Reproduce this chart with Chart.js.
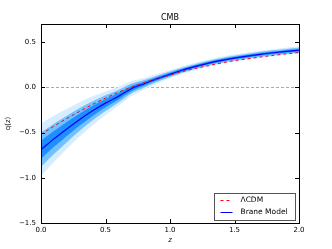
<!DOCTYPE html>
<html><head><meta charset="utf-8">
<script src="https://cdn.jsdelivr.net/npm/chart.js@4.4.0/dist/chart.umd.min.js"></script>
<style>html,body{margin:0;padding:0;background:#fff;}canvas{display:block;}</style>
</head><body>
<canvas id="c" width="332" height="249"></canvas>
<script>
const zValues = [0.0,0.1,0.2,0.3,0.4,0.5,0.6,0.7,0.8,0.9,1.0,1.1,1.2,1.3,1.4,1.5,1.6,1.7,1.8,1.9,2.0];
const lcdm  = [-0.52,-0.43,-0.345,-0.265,-0.19,-0.12,-0.055,0.0,0.05,0.095,0.135,0.175,0.21,0.24,0.27,0.295,0.315,0.335,0.353,0.37,0.385];
const brane = [-0.69,-0.57,-0.46,-0.355,-0.26,-0.175,-0.10,-0.015,0.04,0.095,0.145,0.192,0.232,0.268,0.298,0.323,0.345,0.365,0.382,0.397,0.41];
const sigma3 = [0.29,0.255,0.22,0.19,0.16,0.13,0.104,0.082,0.064,0.052,0.046,0.042,0.04,0.04,0.04,0.04,0.04,0.04,0.04,0.04,0.04];
const sigma2 = [0.19,0.168,0.146,0.125,0.105,0.086,0.069,0.054,0.042,0.034,0.030,0.028,0.027,0.027,0.027,0.027,0.027,0.027,0.027,0.027,0.027];
const sigma1 = [0.10,0.088,0.077,0.066,0.056,0.046,0.037,0.029,0.022,0.018,0.016,0.015,0.014,0.014,0.014,0.014,0.014,0.014,0.014,0.014,0.014];
const xTicks = [0.0,0.5,1.0,1.5,2.0];
const yTicks = [-1.5,-1.0,-0.5,0.0,0.5];
const titleText = "CMB";
const xLabel = "z";
const yLabel = "q(z)";
const legendLabels = ["\u039BCDM","Brane Model"];

const pts = arr => arr.map((v,i)=>({x:zValues[i], y:v}));
const band = (w, sign) => brane.map((v,i)=>({x:zValues[i], y:v + sign*w[i]}));
const bandDs = (w, color, order) => [
  {data: band(w, 1), fill: '+1', backgroundColor: color, borderWidth: 0, pointRadius: 0, order: order, cubicInterpolationMode:'monotone'},
  {data: band(w, -1), fill: false, backgroundColor: color, borderWidth: 0, pointRadius: 0, order: order, cubicInterpolationMode:'monotone'}
];
const FONT = '"DejaVu Sans", sans-serif';

const frame = {
  id: 'frame',
  beforeDatasetsDraw(chart) {
    const {ctx, chartArea: a, scales} = chart;
    const y0 = Math.round(scales.y.getPixelForValue(0)) + 0.5;
    ctx.save();
    ctx.strokeStyle = '#aaa';
    ctx.lineWidth = 1;
    ctx.setLineDash([3, 2]);
    ctx.beginPath(); ctx.moveTo(a.left, y0); ctx.lineTo(a.right, y0); ctx.stroke();
    ctx.restore();
  },
  afterDraw(chart) {
    const {ctx, chartArea: a, scales} = chart;
    ctx.save();
    ctx.strokeStyle = '#000';
    ctx.lineWidth = 1;
    ctx.strokeRect(Math.round(a.left)+0.5, Math.round(a.top)+0.5, Math.round(a.right-a.left), Math.round(a.bottom-a.top));
    ctx.beginPath();
    xTicks.forEach(t => {
      const x = Math.round(scales.x.getPixelForValue(t)) + 0.5;
      ctx.moveTo(x, a.bottom); ctx.lineTo(x, a.bottom - 4);
      ctx.moveTo(x, a.top); ctx.lineTo(x, a.top + 4);
    });
    yTicks.forEach(t => {
      const y = Math.round(scales.y.getPixelForValue(t)) + 0.5;
      ctx.moveTo(a.left, y); ctx.lineTo(a.left + 4, y);
      ctx.moveTo(a.right, y); ctx.lineTo(a.right - 4, y);
    });
    ctx.stroke();
    ctx.fillStyle = '#000';
    ctx.font = '8px ' + FONT;
    ctx.textAlign = 'center'; ctx.textBaseline = 'alphabetic';
    ctx.fillText(titleText, (a.left + a.right)/2, a.top - 4);
    ctx.font = 'italic 7px ' + FONT;
    ctx.fillText(xLabel, (a.left + a.right)/2, 242);
    ctx.save();
    ctx.translate(10, (a.top + a.bottom)/2);
    ctx.rotate(-Math.PI/2);
    ctx.font = '7px ' + FONT;
    ctx.fillText(yLabel, 0, 0);
    ctx.restore();
    const lx = 214.5, ly = 193.5, lw = 81, lh = 27;
    ctx.fillStyle = '#fff';
    ctx.fillRect(lx, ly, lw, lh);
    ctx.strokeStyle = '#555';
    ctx.strokeRect(lx, ly, lw, lh);
    const rows = [ly + 7, ly + 19];
    const styles = [{c:'#ff0000', d:[3,3]}, {c:'#0000ff', d:[]}];
    styles.forEach((s, i) => {
      ctx.strokeStyle = s.c; ctx.setLineDash(s.d); ctx.lineWidth = 1;
      ctx.beginPath(); ctx.moveTo(lx + 6, rows[i]); ctx.lineTo(lx + 18, rows[i]); ctx.stroke();
    });
    ctx.setLineDash([]);
    ctx.fillStyle = '#000';
    ctx.font = '7.5px ' + FONT;
    ctx.textAlign = 'left'; ctx.textBaseline = 'middle';
    legendLabels.forEach((t, i) => ctx.fillText(t, lx + 26, rows[i]));
    ctx.restore();
  }
};

const fmt = v => (v < 0 ? '\u2212' : '') + Math.abs(v).toFixed(1);

new Chart(document.getElementById('c'), {
  type: 'line',
  data: {
    datasets: [
      {label: legendLabels[0], data: pts(lcdm), borderColor: '#ff0000', borderWidth: 1, borderDash: [3,3], pointRadius: 0, fill: false, order: 0, cubicInterpolationMode:'monotone'},
      {label: legendLabels[1], data: pts(brane), borderColor: '#0000ff', borderWidth: 1.2, pointRadius: 0, fill: false, order: 1, cubicInterpolationMode:'monotone'},
      ...bandDs(sigma1, '#1f8fff', 2),
      ...bandDs(sigma2, '#73c0ff', 3),
      ...bandDs(sigma3, '#d6ecff', 4)
    ]
  },
  options: {
    responsive: false,
    devicePixelRatio: 1,
    animation: false,
    layout: {padding: {top: 24, right: 33, left: 0, bottom: 0}},
    plugins: {legend: {display: false}, title: {display: false}, tooltip: {enabled: false}},
    scales: {
      x: {
        type: 'linear', min: 0, max: 2,
        afterFit: s => { s.height = 26; },
        afterBuildTicks: s => { s.ticks = xTicks.map(v => ({value: v})); },
        grid: {display: false, drawTicks: false},
        border: {display: false},
        ticks: {padding: 3, color: '#000', font: {family: FONT, size: 7}, callback: fmt, maxRotation: 0, autoSkip: false}
      },
      y: {
        type: 'linear', min: -1.5, max: 0.7,
        afterFit: s => { s.width = 41; },
        afterBuildTicks: s => { s.ticks = yTicks.map(v => ({value: v})); },
        grid: {display: false, drawTicks: false},
        border: {display: false},
        ticks: {padding: 5, color: '#000', font: {family: FONT, size: 7}, callback: fmt, autoSkip: false}
      }
    }
  },
  plugins: [frame]
});
</script>
</body></html>
